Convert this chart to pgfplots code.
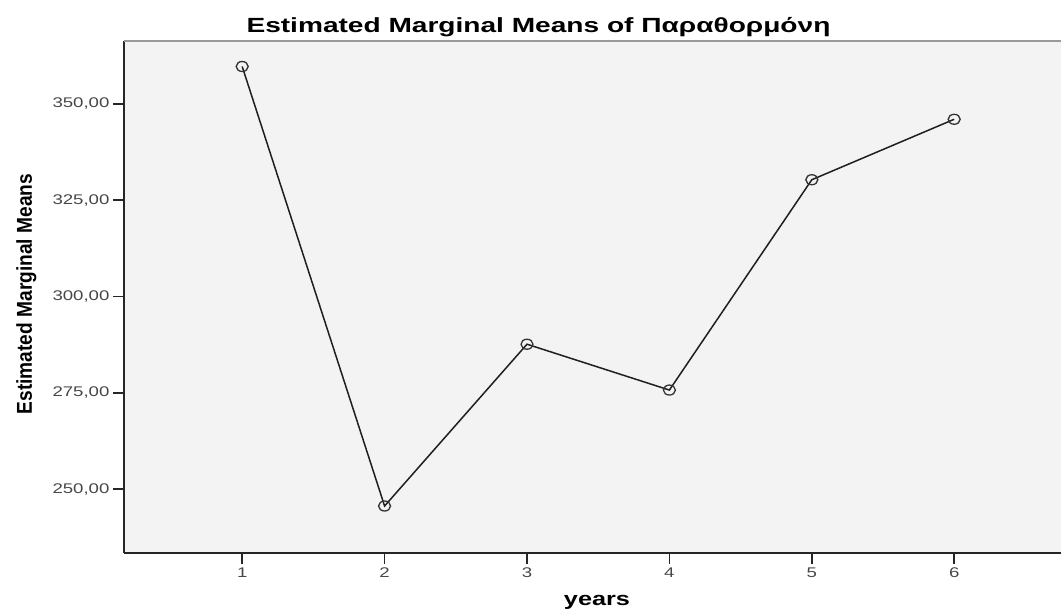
\documentclass[border=0pt]{standalone}
\usepackage{fontspec}
\setmainfont{Liberation Sans}
\newfontfamily\tickfont[FakeStretch=1.33]{Liberation Sans}
\newfontfamily\titlefont[FakeStretch=1.37]{Liberation Sans}
\newfontfamily\xlabfont[FakeStretch=1.33]{Liberation Sans}
\newfontfamily\ylabfont[FakeStretch=0.89]{Liberation Sans}
\usepackage{pgfplots}
\pgfplotsset{compat=1.18}
\usetikzlibrary{calc}
\definecolor{plotbg}{HTML}{F3F3F3}

\begin{document}
\begin{tikzpicture}
\begin{axis}[
  name=ax,
  scale only axis,
  width=937pt, height=512.3pt,
  xmin=0.17, xmax=6.75,
  ymin=233.4, ymax=366.4,
  axis x line*=bottom, axis y line*=left,
  axis line style={line width=1.8pt, black!85, -},
  axis background/.style={fill=plotbg},
  xtick={1,2,3,4,5,6},
  ytick={250,275,300,325,350},
  tick align=outside,
  major tick length=11pt,
  tick style={line width=1.5pt, black!85},
  /pgf/number format/assume math mode=true,
  y tick label style={/pgf/number format/.cd, fixed, fixed zerofill, precision=2, use comma, 1000 sep={}},
  ticklabel style={font=\tickfont\fontsize{14}{14}\selectfont, text=black!72},
]
\addplot[black!88, line width=1.5pt, mark=o, mark size=5pt,
  mark options={xscale=1.2, line width=1.3pt, draw=black!80}]
  coordinates {
  (1,359.7)
  (2,245.6)
  (3,287.6)
  (4,275.7)
  (5,330.3)
  (6,346.0)
};
\draw[gray!80, line width=1.8pt] (rel axis cs:0,1) -- (rel axis cs:1,1);
\end{axis}
\node[anchor=base west, font=\titlefont\bfseries\fontsize{20.5}{21}\selectfont]
  at ($(ax.south west)+(119pt,520.7pt)$) {Estimated Marginal Means of Παραθορμόνη};
\node[anchor=base, font=\xlabfont\bfseries\fontsize{19}{19}\selectfont]
  at ($(ax.south west)+(473pt,-53pt)$) {years};
\node[rotate=90, anchor=base, font=\ylabfont\bfseries\fontsize{21.5}{22}\selectfont]
  at ($(ax.south west)+(-92pt,259pt)$) {Estimated Marginal Means};
\pgfresetboundingbox
\path[use as bounding box] ($(ax.south west)+(-124pt,-56pt)$) rectangle ($(ax.south west)+(937pt,553pt)$);
\end{tikzpicture}
\end{document}
